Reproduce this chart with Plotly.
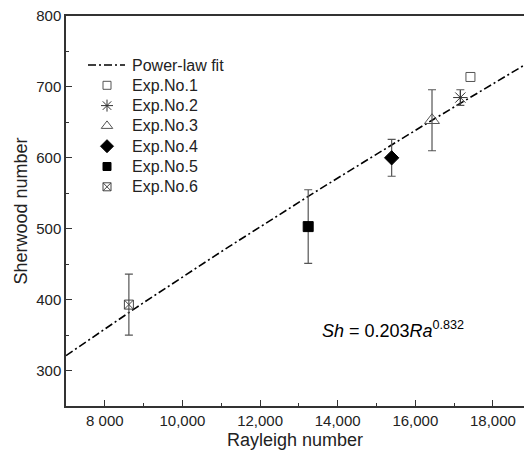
import numpy as np
import plotly.graph_objects as go

# Data
exp_names = ["Exp.No.1", "Exp.No.2", "Exp.No.3", "Exp.No.4", "Exp.No.5", "Exp.No.6"]
ra_values = [17420, 17160, 16430, 15390, 13240, 8620]
sh_values = [714, 685, 653, 600, 503, 393]
sh_errors = [None, 11, 43, 26, 52, 43]

# Power-law fit Sh = a * Ra^b
fit_a = 0.203
fit_b = 0.832
fit_ra = np.linspace(7000, 18800, 60)
fit_sh = fit_a * fit_ra ** fit_b

x_tickvals = [8000, 10000, 12000, 14000, 16000, 18000]
x_ticktext = ["8 000", "10,000", "12,000", "14,000", "16,000", "18,000"]
y_tickvals = [300, 400, 500, 600, 700, 800]

symbols = ["square-open", "asterisk-open", "triangle-up-open", "diamond", "square", "square-x-open"]
colors = ["#555555", "#333333", "#555555", "black", "black", "#444444"]
sizes = [9, 12, 13, 11, 10, 9]
legend_sizes = [8, 10, 10, 10, 8, 8]

FONT = "Liberation Sans, Arial"
W, H = 524, 457
L, R, T, B = 66, 0, 16, 51
PW, PH = W - L - R, H - T - B


def px_x(p):
    return (p - L) / PW


def px_y(p):
    return (H - B - p) / PH


fig = go.Figure()
fig.add_trace(go.Scatter(
    x=fit_ra, y=fit_sh, mode="lines", name="Power-law fit", showlegend=False,
    line=dict(color="black", width=1.6, dash="8px,3px,2px,3px"),
))
for i, name in enumerate(exp_names):
    err = sh_errors[i]
    fig.add_trace(go.Scatter(
        x=[ra_values[i]], y=[sh_values[i]], mode="markers", name=name,
        showlegend=False,
        marker=dict(symbol=symbols[i], color=colors[i], size=sizes[i],
                    line=dict(color=colors[i], width=1)),
        error_y=dict(type="data", array=[err], visible=err is not None,
                     color="#555555", thickness=1.2, width=4),
    ))

# Hand-drawn legend (overlay axis in 0..1 coordinates)
leg_rows = [65 + 20.3 * k for k in range(7)]
legend_labels = ["Power-law fit"] + exp_names
fig.add_trace(go.Scatter(
    x=[px_x(88), px_x(125)], y=[px_y(leg_rows[0])] * 2, xaxis="x2", yaxis="y2",
    mode="lines", showlegend=False, hoverinfo="skip",
    line=dict(color="black", width=1.6, dash="8px,3px,2px,3px"),
))
for i, name in enumerate(exp_names):
    fig.add_trace(go.Scatter(
        x=[px_x(107)], y=[px_y(leg_rows[i + 1])], xaxis="x2", yaxis="y2",
        mode="markers", showlegend=False, hoverinfo="skip",
        marker=dict(symbol=symbols[i], color=colors[i], size=legend_sizes[i],
                    line=dict(color=colors[i], width=1)),
    ))
for k, lab in enumerate(legend_labels):
    fig.add_annotation(
        x=px_x(130), y=px_y(leg_rows[k]), xref="paper", yref="paper",
        xanchor="left", yanchor="middle", text=lab, showarrow=False,
        font=dict(size=16, color="#222222", family=FONT),
    )

fig.add_annotation(
    x=0.555, y=0.195, xref="paper", yref="paper", xanchor="left", yanchor="middle",
    text="<i>Sh</i> = 0.203<i>Ra</i><sup>0.832</sup>", showarrow=False,
    font=dict(size=18, color="black", family=FONT),
)

fig.update_layout(
    width=W, height=H,
    margin=dict(l=L, r=R, t=T, b=B),
    paper_bgcolor="white", plot_bgcolor="white",
    font=dict(family=FONT, size=15, color="#222222"),
    showlegend=False,
    xaxis=dict(
        range=[7000, 18800], tickvals=x_tickvals, ticktext=x_ticktext,
        showgrid=False, zeroline=False, showline=True, linecolor="#333333", linewidth=1.5,
        mirror=True, ticks="inside", ticklen=6, tickcolor="#333333",
        tickfont=dict(size=15),
        minor=dict(tickvals=[9000, 11000, 13000, 15000, 17000], ticks="inside", ticklen=3, tickcolor="#333333"),
        title=dict(text="Rayleigh number", font=dict(size=18, color="#222222"), standoff=6),
    ),
    yaxis=dict(
        range=[250, 800], tickvals=y_tickvals,
        showgrid=False, zeroline=False, showline=True, linecolor="#333333", linewidth=1.5,
        ticks="inside", ticklen=6, tickcolor="#333333",
        tickfont=dict(size=15),
        minor=dict(tickvals=[350, 450, 550, 650, 750], ticks="inside", ticklen=3, tickcolor="#333333"),
        title=dict(text="Sherwood number", font=dict(size=18, color="#222222"), standoff=4),
    ),
    xaxis2=dict(range=[0, 1], overlaying="x", visible=False, fixedrange=True),
    yaxis2=dict(range=[0, 1], overlaying="y", visible=False, fixedrange=True),
)

fig.write_html("out.html")
